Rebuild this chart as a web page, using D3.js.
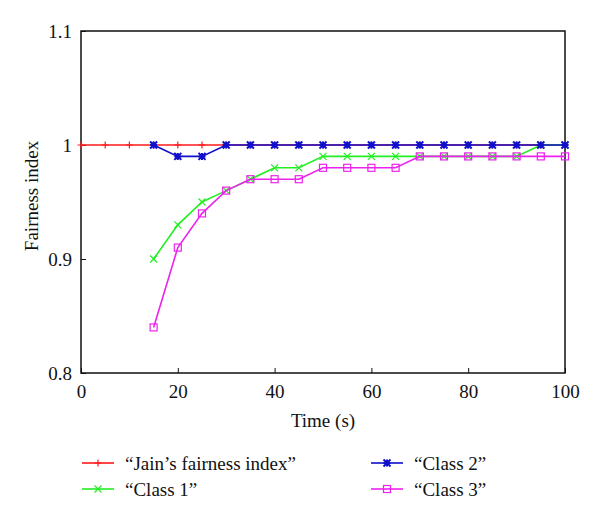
<!DOCTYPE html>
<html>
<head>
<meta charset="utf-8">
<script src="https://cdn.jsdelivr.net/npm/d3@7"></script>
<style>
  body { margin: 0; background: white; }
  text { font-family: "Liberation Serif", "DejaVu Serif", serif; fill: #111; }
</style>
</head>
<body>
<div id="chart"></div>
<script>
// data
var time = [0, 5, 10, 15, 20, 25, 30, 35, 40, 45, 50, 55, 60, 65, 70, 75, 80, 85, 90, 95, 100];
var jain = [1, 1, 1, 1, 1, 1, 1, 1, 1, 1, 1, 1, 1, 1, 1, 1, 1, 1, 1, 1, 1];
var classTime = [15, 20, 25, 30, 35, 40, 45, 50, 55, 60, 65, 70, 75, 80, 85, 90, 95, 100];
var class1 = [0.90, 0.93, 0.95, 0.96, 0.97, 0.98, 0.98, 0.99, 0.99, 0.99, 0.99, 0.99, 0.99, 0.99, 0.99, 0.99, 1.00, 1.00];
var class2 = [1.00, 0.99, 0.99, 1.00, 1.00, 1.00, 1.00, 1.00, 1.00, 1.00, 1.00, 1.00, 1.00, 1.00, 1.00, 1.00, 1.00, 1.00];
var class3 = [0.84, 0.91, 0.94, 0.96, 0.97, 0.97, 0.97, 0.98, 0.98, 0.98, 0.98, 0.99, 0.99, 0.99, 0.99, 0.99, 0.99, 0.99];
var xTicks = [0, 20, 40, 60, 80, 100];
var yTicks = [0.8, 0.9, 1, 1.1];

var marg = {top: 31, right: 35, bottom: 148, left: 81};
var W = 600, H = 521;
var width = W - marg.left - marg.right;
var height = H - marg.top - marg.bottom;
var fs = "19px";

var svg = d3.select("#chart").append("svg")
    .attr("width", W)
    .attr("height", H);

var g = svg.append("g").attr("transform", "translate(" + marg.left + "," + marg.top + ")");

var x = d3.scaleLinear().domain([0, 100]).range([0, width]);
var y = d3.scaleLinear().domain([0.8, 1.1]).range([height, 0]);

// axes, ticks pointing inward
var xAx = g.append("g").attr("transform", "translate(0," + height + ")")
    .call(d3.axisBottom(x).tickValues(xTicks).tickSize(-5).tickPadding(12).tickFormat(d3.format("d")));
var yAx = g.append("g")
    .call(d3.axisLeft(y).tickValues(yTicks).tickSize(-5).tickPadding(9).tickFormat(function(d){ return d === 1 ? "1" : d3.format(".1f")(d); }));
[xAx, yAx].forEach(function(a){
    a.select(".domain").remove();
    a.selectAll("line").attr("stroke", "#111").attr("stroke-width", 1);
    a.selectAll("text").style("font-size", fs).attr("fill", "#111");
});
yAx.selectAll("text").attr("dy", "0.35em");

g.append("rect").attr("width", width).attr("height", height)
    .attr("fill", "none").attr("stroke", "#111").attr("stroke-width", 1.5);

svg.append("text").attr("x", marg.left + width / 2).attr("y", 427)
    .attr("text-anchor", "middle").style("font-size", fs).text("Time (s)");
svg.append("text").attr("transform", "translate(38,196) rotate(-90)")
    .attr("text-anchor", "middle").style("font-size", fs).text("Fairness index");

// markers
function marker(sel, type, col) {
    var s = 3.5;
    if (type === "plus") {
        sel.append("path").attr("d", "M" + (-s) + ",0H" + s + "M0," + (-s) + "V" + s)
            .attr("stroke", col).attr("stroke-width", 1.2).attr("fill", "none");
    } else if (type === "cross") {
        sel.append("path").attr("d", "M" + (-s) + "," + (-s) + "L" + s + "," + s + "M" + (-s) + "," + s + "L" + s + "," + (-s))
            .attr("stroke", col).attr("stroke-width", 1.2).attr("fill", "none");
    } else if (type === "star") {
        sel.append("path").attr("d", "M" + (-s) + "," + (-s) + "L" + s + "," + s + "M" + (-s) + "," + s + "L" + s + "," + (-s) +
            "M" + (-s) + ",0H" + s + "M0," + (-s) + "V" + s)
            .attr("stroke", col).attr("stroke-width", 2).attr("fill", "none");
    } else {
        sel.append("rect").attr("x", -s).attr("y", -s).attr("width", 2 * s).attr("height", 2 * s)
            .attr("stroke", col).attr("stroke-width", 1.2).attr("fill", "none");
    }
}

var series = [
    {name: "\u201cJain\u2019s fairness index\u201d", xs: time, ys: jain, col: "#ff1a1a", m: "plus"},
    {name: "\u201cClass 1\u201d", xs: classTime, ys: class1, col: "#22ee22", m: "cross"},
    {name: "\u201cClass 2\u201d", xs: classTime, ys: class2, col: "#1010cc", m: "star"},
    {name: "\u201cClass 3\u201d", xs: classTime, ys: class3, col: "#ee22ee", m: "square"}
];

var line = d3.line().x(function(d){ return x(d[0]); }).y(function(d){ return y(d[1]); });

series.forEach(function(s){
    var pts = s.xs.map(function(t, i){ return [t, s.ys[i]]; });
    g.append("path").datum(pts).attr("d", line)
        .attr("fill", "none").attr("stroke", s.col).attr("stroke-width", 1.6);
    g.selectAll(null).data(pts).enter().append("g")
        .attr("transform", function(d){ return "translate(" + x(d[0]) + "," + y(d[1]) + ")"; })
        .each(function(){ marker(d3.select(this), s.m, s.col); });
});

// legend
var legPos = [[82, 463], [82, 489], [371, 463], [371, 489]];
series.forEach(function(s, i){
    var lg = svg.append("g").attr("transform", "translate(" + legPos[i][0] + "," + legPos[i][1] + ")");
    lg.append("line").attr("x1", 0).attr("x2", 32).attr("stroke", s.col).attr("stroke-width", 1.6);
    var mk = lg.append("g").attr("transform", "translate(16,0)");
    marker(mk, s.m, s.col);
    lg.append("text").attr("x", 43).attr("y", 0).attr("dy", "0.35em")
        .style("font-size", fs).text(s.name);
});
</script>
</body>
</html>
